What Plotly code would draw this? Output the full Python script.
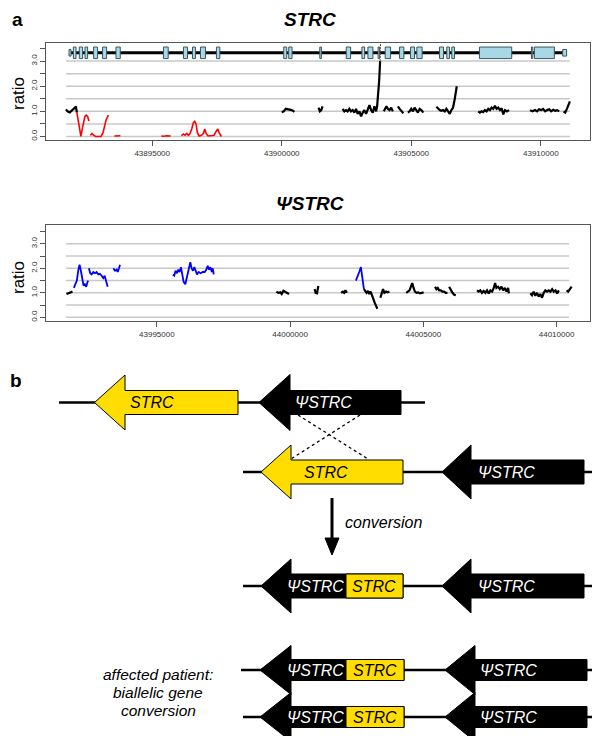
import plotly.graph_objects as go

W, H = 600, 736
FONT = "Liberation Sans, Arial, Helvetica, sans-serif"

# ---------------- panel a : STRC ----------------
strc_ticks = [43895000, 43900000, 43905000, 43910000]
strc_xrange = [43890900, 43911900]
strc_grid_span = [43891680, 43911120]
ratio_ticks = [0, 0.5, 1, 1.5, 2, 2.5, 3, 3.5]
ratio_labels = ["0.0", "", "1.0", "", "2.0", "", "3.0", ""]
grid_levels = [0, 0.5, 1, 1.5, 2, 2.5, 3]

strc_exon_start = [43891789, 43891955, 43892186, 43892406, 43892737, 43893084, 43893601,
                   43895436, 43896207, 43896554, 43896862, 43897479, 43900077, 43900270,
                   43901470, 43902490, 43903096, 43903327, 43903720, 43903994, 43904549,
                   43904973, 43905216, 43906091, 43906372, 43906565, 43907633, 43909640,
                   43909753, 43910844]
strc_exon_end = [43891866, 43892059, 43892313, 43892506, 43892891, 43893238, 43893766,
                 43895617, 43896361, 43896669, 43897055, 43897610, 43900193, 43900397,
                 43901530, 43902660, 43903200, 43903520, 43903780, 43904202, 43904715,
                 43905127, 43905420, 43906245, 43906476, 43906669, 43908878, 43909690,
                 43910524, 43910998]
gene_track_y = 3.33

# normal-ratio coverage (black), None separates segments
strc_norm_pos = [43891670, 43891730, 43891820, 43891900, 43891990, 43892054, 43892093, None,
                 43900000, 43900078, 43900155, 43900233, 43900310, 43900388, 43900491, None,
                 43901421, 43901473, 43901525, 43901576, None,
                 43902351, 43902416, 43902481, 43902545, 43902610, 43902674, 43902739, 43902804,
                 43902868, 43902933, 43902997, 43903062, 43903127, 43903191, 43903256, 43903320,
                 43903385, 43903450, 43903514, 43903579, 43903643, 43903682, 43903721, 43903760,
                 43903798, None,
                 43903941, 43903992, 43904044, 43904096, 43904160, 43904225, 43904289, None,
                 43904483, 43904535, 43904587, 43904638, 43904690, None,
                 43904871, 43904935, 43905000, 43905065, 43905129, 43905194, 43905258, 43905323,
                 43905388, 43905465, None,
                 43905969, 43906034, 43906098, 43906163, 43906227, 43906292, 43906357, 43906421,
                 43906486, 43906550, 43906615, 43906680, 43906757, None,
                 43907584, 43907649, 43907713, 43907778, 43907842, 43907907, 43907972, 43908036,
                 43908101, 43908165, 43908230, 43908295, 43908359, 43908424, 43908488, 43908553,
                 43908618, 43908695, 43908773, None,
                 43909587, 43909677, 43909780, 43909858, 43909935, 43910013, 43910090, 43910168,
                 43910245, 43910323, 43910400, 43910478, 43910556, 43910633, 43910711, None,
                 43910879, 43910943, 43911008, 43911072, 43911124]
strc_norm_ratio = [1.08, 1.0, 0.96, 1.02, 1.12, 1.2, 0.95, None,
                   0.97, 1.0, 1.1, 1.08, 1.05, 1.05, 0.98, None,
                   1.15, 1.0, 1.05, 1.2, None,
                   1.1, 1.0, 1.05, 1.0, 1.1, 1.0, 1.05, 0.95,
                   1.1, 0.9, 1.0, 0.8, 0.95, 1.05, 0.9, 1.1,
                   1.25, 1.05, 0.95, 1.2, 1.0, 1.2, 1.6, 2.2,
                   3.0, None,
                   1.0, 1.1, 1.2, 1.1, 1.05, 1.15, 1.0, None,
                   1.2, 1.1, 1.05, 1.0, 0.92, None,
                   0.95, 1.0, 1.1, 1.0, 1.15, 1.02, 0.95, 1.1,
                   1.05, 0.95, None,
                   1.18, 1.1, 1.05, 1.02, 1.05, 1.0, 1.1, 1.0,
                   0.9, 1.05, 1.15, 1.5, 2.0, None,
                   1.0, 0.95, 1.0, 0.97, 1.05, 1.0, 1.1, 1.05,
                   1.15, 1.1, 1.22, 1.1, 1.15, 1.05, 1.12, 0.88,
                   1.05, 1.0, 1.05, None,
                   1.05, 1.0, 1.05, 1.0, 1.08, 1.05, 1.1, 1.0,
                   1.05, 1.08, 1.0, 1.06, 1.02, 1.05, 1.0, None,
                   1.0, 0.95, 1.1, 1.25, 1.4]
# off-scale continuation of the spike (thin)
strc_spike_pos = [43903798, 43903812, 43903826]
strc_spike_ratio = [3.0, 3.6, 4.2]

# reduced-ratio coverage (red)
strc_low_pos = [43892093, 43892145, 43892196, 43892248, 43892300, 43892351, 43892403, 43892455,
                43892506, 43892558, None,
                43892610, 43892674, 43892739, 43892817, 43892920, 43893023, 43893101, 43893152,
                43893217, 43893307, None,
                43893540, 43893620, 43893700, 43893773, None,
                43895349, 43895450, 43895560, 43895711, None,
                43896124, 43896202, 43896266, 43896331, 43896395, 43896460, 43896525, 43896589,
                43896641, 43896693, 43896744, 43896809, 43896899, 43896977, 43897028, 43897080,
                43897158, 43897287, 43897390, 43897468, 43897532, 43897597, 43897674]
strc_low_ratio = [0.95, 0.6, 0.25, 0.0, 0.3, 0.62, 0.8, 0.85,
                  0.8, 0.62, None,
                  0.05, 0.12, 0.05, 0.0, 0.0, 0.0, 0.15, 0.4,
                  0.65, 0.85, None,
                  0.02, 0.03, 0.02, 0.03, None,
                  0.02, 0.01, 0.03, 0.02, None,
                  0.03, 0.1, 0.05, 0.12, 0.05, 0.12, 0.3, 0.55,
                  0.6, 0.5, 0.15, 0.02, 0.05, 0.12, 0.3, 0.12,
                  0.02, 0.02, 0.05, 0.2, 0.3, 0.12, 0.0]

# ---------------- panel a : PsiSTRC ----------------
pstrc_ticks = [43995000, 44000000, 44005000, 44010000]
pstrc_xrange = [43990840, 44011256]
pstrc_grid_span = [43991590, 44010470]

pstrc_norm_pos = [43991609, 43991697, 43991772, 43991835, None,
                  43999484, 43999559, 43999635, 43999685, 43999748, 43999810, 43999886, 43999961, None,
                  44000920, 44000960, 44001010, 44001060, None,
                  44001915, 44001978, 44002029, 44002079, 44002130, None,
                  44002771, 44002822, 44002872, 44002923, 44002973, 44003023, 44003074, 44003124,
                  44003174, 44003225, 44003275, None,
                  44003388, 44003439, 44003489, 44003540, 44003603, 44003665, 44003728, None,
                  44004358, 44004421, 44004484, 44004534, 44004585, 44004635, 44004685, 44004748,
                  44004811, 44004874, 44004937, 44005013, None,
                  44005441, 44005491, 44005541, 44005592, 44005655, 44005718, 44005781, 44005844,
                  44005906, None,
                  44005969, 44006032, 44006095, 44006158, 44006221, None,
                  44007014, 44007077, 44007140, 44007203, 44007266, 44007329, 44007392, 44007455,
                  44007518, 44007581, 44007644, 44007694, 44007744, 44007807, 44007870, 44007933,
                  44007996, 44008059, 44008122, 44008184, 44008210, None,
                  44009016, 44009079, 44009142, 44009205, 44009268, 44009331, 44009394, 44009457,
                  44009520, 44009583, 44009646, 44009709, 44009772, 44009835, 44009898, 44009961,
                  44010024, 44010087, None,
                  44010376, 44010439, 44010502, 44010565]
pstrc_norm_ratio = [0.95, 0.98, 1.02, 1.05, None,
                    1.05, 1.0, 1.02, 0.95, 1.08, 1.05, 1.0, 0.95, None,
                    1.15, 1.0, 0.98, 1.28, None,
                    1.0, 1.05, 1.0, 1.1, 1.0, None,
                    1.15, 1.05, 1.0, 1.08, 0.95, 1.05, 0.85, 0.75,
                    0.6, 0.45, 0.35, None,
                    0.8, 0.95, 1.15, 1.0, 1.05, 1.02, 1.05, None,
                    1.0, 1.05, 1.1, 1.25, 1.4, 1.2, 1.05, 1.0,
                    1.02, 0.98, 1.0, 1.02, None,
                    1.25, 1.15, 1.2, 1.1, 1.1, 1.05, 1.05, 1.0,
                    1.0, None,
                    1.25, 1.1, 1.0, 0.92, 0.9, None,
                    1.1, 1.05, 1.1, 1.0, 1.08, 1.0, 1.1, 0.98,
                    1.1, 1.05, 1.2, 1.4, 1.2, 1.25, 1.15, 1.25,
                    1.1, 1.2, 1.05, 1.2, 0.98, None,
                    0.98, 0.9, 1.05, 0.88, 1.0, 0.85, 0.95, 0.8,
                    1.0, 1.1, 1.05, 1.1, 1.05, 1.15, 1.05, 1.1,
                    0.98, 1.1, None,
                    1.1, 1.05, 1.15, 1.25]

pstrc_high_pos = [43991885, 43991948, 43991998, 43992048, 43992099, 43992149, 43992199, 43992249,
                  43992300, 43992350, 43992400, 43992425, None,
                  43992450, 43992500, 43992551, 43992614, 43992676, 43992739, 43992802, 43992865,
                  43992928, 43992990, 43993041, 43993091, 43993154, None,
                  43993367, 43993430, 43993492, 43993530, 43993580, 43993618, None,
                  43995603, 43995653, 43995703, 43995754, 43995804, 43995854, 43995904, 43995955,
                  43996005, 43996068, 43996130, 43996193, 43996256, 43996306, 43996356, 43996407,
                  43996457, 43996507, 43996570, 43996645, 43996721, 43996796, 43996859, 43996909,
                  43996959, 43997010, 43997060, 43997098, 43997135, None,
                  44002469, 44002532, 44002595, 44002658, 44002696, 44002734, 44002771]
pstrc_high_ratio = [1.2, 1.35, 1.5, 1.9, 2.15, 1.9, 1.5, 1.3,
                    1.35, 1.25, 1.45, 1.5, None,
                    2.0, 1.8, 1.75, 1.85, 1.8, 1.85, 1.75, 1.78,
                    1.7, 1.6, 1.7, 1.5, 1.25, None,
                    2.0, 1.9, 1.95, 1.85, 2.0, 2.15, None,
                    1.75, 1.7, 1.9, 1.8, 1.95, 1.85, 2.05, 1.7,
                    1.45, 1.35, 1.7, 2.0, 2.25, 2.0, 1.9, 2.05,
                    1.9, 1.75, 1.85, 1.8, 1.85, 1.85, 1.95, 2.1,
                    1.95, 2.05, 1.85, 2.0, 1.75, None,
                    1.5, 1.65, 1.85, 2.05, 1.75, 1.45, 1.15]

# ---------------- figure ----------------
fig = go.Figure()

fig.add_trace(go.Scatter(x=strc_norm_pos, y=strc_norm_ratio, mode="lines",
                         line=dict(color="black", width=2.2), connectgaps=False,
                         xaxis="x", yaxis="y", hoverinfo="skip"))
fig.add_trace(go.Scatter(x=strc_spike_pos, y=strc_spike_ratio, mode="lines",
                         line=dict(color="#6b4a2a", width=1, dash="2px,1px"),
                         xaxis="x", yaxis="y", hoverinfo="skip"))
fig.add_trace(go.Scatter(x=strc_low_pos, y=strc_low_ratio, mode="lines",
                         line=dict(color="#FF0000", width=1.6), connectgaps=False,
                         xaxis="x", yaxis="y", hoverinfo="skip"))
fig.add_trace(go.Scatter(x=pstrc_norm_pos, y=pstrc_norm_ratio, mode="lines",
                         line=dict(color="black", width=2.2), connectgaps=False,
                         xaxis="x2", yaxis="y2", hoverinfo="skip"))
fig.add_trace(go.Scatter(x=pstrc_high_pos, y=pstrc_high_ratio, mode="lines",
                         line=dict(color="#0000FF", width=1.8), connectgaps=False,
                         xaxis="x2", yaxis="y2", hoverinfo="skip"))

shapes = []
for lv in grid_levels:
    shapes.append(dict(type="line", xref="x", yref="y", x0=strc_grid_span[0], x1=strc_grid_span[1],
                       y0=lv, y1=lv, line=dict(color="#C8C8C8", width=1.5), layer="below"))
    shapes.append(dict(type="line", xref="x2", yref="y2", x0=pstrc_grid_span[0], x1=pstrc_grid_span[1],
                       y0=lv, y1=lv, line=dict(color="#C8C8C8", width=1.5), layer="below"))

# gene model
shapes.append(dict(type="line", xref="x", yref="y", x0=strc_exon_start[0], x1=strc_exon_end[-1],
                   y0=gene_track_y, y1=gene_track_y, line=dict(color="black", width=3), layer="below"))
for i, (s, e) in enumerate(zip(strc_exon_start, strc_exon_end)):
    half = 0.13 if i in (0, len(strc_exon_start) - 1) else 0.23
    shapes.append(dict(type="rect", xref="x", yref="y", x0=s, x1=e,
                       y0=gene_track_y - half, y1=gene_track_y + half,
                       fillcolor="#A8D8E6", line=dict(color="#3A5560", width=1), layer="below"))

# ---------------- panel b : diagram (pixel helper) ----------------
def px(x, y):
    return x / W, 1 - y / H

def path(pts):
    return "M " + " L ".join("%.5f,%.5f" % px(x, y) for x, y in pts) + " Z"

def arrow(tip, xh, xe, yc, hh, hb, fill):
    pts = [(tip, yc), (xh, yc - hh), (xh, yc - hb), (xe, yc - hb), (xe, yc + hb),
           (xh, yc + hb), (xh, yc + hh)]
    shapes.append(dict(type="path", xref="paper", yref="paper", path=path(pts),
                       fillcolor=fill, line=dict(color="black", width=1), layer="above"))

def hline(x0, x1, y, w=2.5):
    a = px(x0, y); b = px(x1, y)
    shapes.append(dict(type="line", xref="paper", yref="paper", x0=a[0], y0=a[1], x1=b[0], y1=b[1],
                       line=dict(color="black", width=w), layer="above"))

def rect(x0, x1, y0, y1, fill):
    a = px(x0, y0); b = px(x1, y1)
    shapes.append(dict(type="rect", xref="paper", yref="paper", x0=a[0], y0=a[1], x1=b[0], y1=b[1],
                       fillcolor=fill, line=dict(color="black", width=1), layer="above"))

YEL = "#FFDD00"
# row 1
hline(51, 417, 394.5)
arrow(86.5, 117, 230, 394.5, 27.5, 12, YEL)
arrow(251, 282, 393, 394.5, 28, 12, "black")
# row 2
hline(235, 598, 464)
arrow(253, 283, 395, 464, 27, 12, YEL)
arrow(434, 463, 576, 464, 27, 12, "black")
# crossover dashed lines
for (x0, y0, x1, y1) in [(290, 407, 360, 451), (352, 407, 283, 451)]:
    a = px(x0, y0); b = px(x1, y1)
    shapes.append(dict(type="line", xref="paper", yref="paper", x0=a[0], y0=a[1], x1=b[0], y1=b[1],
                       line=dict(color="black", width=1.3, dash="3px,3px"), layer="above"))
# down arrow
a = px(324, 490); b = px(324, 533)
shapes.append(dict(type="line", xref="paper", yref="paper", x0=a[0], y0=a[1], x1=b[0], y1=b[1],
                   line=dict(color="black", width=3), layer="above"))
shapes.append(dict(type="path", xref="paper", yref="paper",
                   path=path([(317, 530), (331, 530), (324, 547)]),
                   fillcolor="black", line=dict(color="black", width=1), layer="above"))
# row 3
hline(235, 598, 578)
arrow(253, 283, 395, 578, 27, 12, "black")
rect(338, 395, 566, 590, YEL)
arrow(434, 463, 576, 578, 27, 12, "black")
# row 4
hline(233, 598, 662)
arrow(252, 283, 396, 662, 24.5, 10.5, "black")
rect(338, 396, 651.5, 672.5, YEL)
arrow(437, 467, 579, 662, 24.5, 10.5, "black")
# row 5
hline(235, 598, 709)
arrow(252, 283, 396, 709, 24.5, 10.5, "black")
rect(338, 396, 698.5, 719.5, YEL)
arrow(437, 467, 579, 709, 24.5, 10.5, "black")

annotations = []
def text(x, y, s, size=16, color="black", anchor="center", angle=0):
    a = px(x, y)
    annotations.append(dict(x=a[0], y=a[1], xref="paper", yref="paper", text=s, showarrow=False,
                            xanchor=anchor, yanchor="middle", textangle=angle,
                            font=dict(family=FONT, size=size, color=color)))

text(9, 12, "<b>a</b>", 19)
text(8, 372, "<b>b</b>", 19)
text(302, 12, "<b><i>STRC</i></b>", 19)
text(302, 196, "<b><i>ΨSTRC</i></b>", 19)
text(10, 86, "ratio", 17, angle=-90)
text(10, 270, "ratio", 17, angle=-90)

text(144, 394.5, "<i>STRC</i>", 16)
text(315, 394.5, "<i>ΨSTRC</i>", 16, "white")
text(318, 464, "<i>STRC</i>", 16)
text(498, 464, "<i>ΨSTRC</i>", 16, "white")
text(335, 514, "<i>conversion</i>", 16, anchor="left")
text(307, 578, "<i>ΨSTRC</i>", 16, "white")
text(366, 578, "<i>STRC</i>", 16)
text(498, 578, "<i>ΨSTRC</i>", 16, "white")
text(307, 662, "<i>ΨSTRC</i>", 16, "white")
text(367, 662, "<i>STRC</i>", 16)
text(500, 662, "<i>ΨSTRC</i>", 16, "white")
text(307, 709, "<i>ΨSTRC</i>", 16, "white")
text(367, 709, "<i>STRC</i>", 16)
text(500, 709, "<i>ΨSTRC</i>", 16, "white")
text(150, 666, "<i>affected patient:</i>", 15.5)
text(150, 684, "<i>biallelic gene</i>", 15.5)
text(150, 702, "<i>conversion</i>", 15.5)

axis_common = dict(showgrid=False, zeroline=False, showline=True, mirror=True,
                   linecolor="#555555", linewidth=1, ticks="outside", ticklen=5,
                   tickcolor="#555555", tickwidth=1,
                   tickfont=dict(family=FONT, size=8, color="#333333"))

fig.update_layout(
    width=W, height=H, margin=dict(l=0, r=0, t=0, b=0),
    paper_bgcolor="white", plot_bgcolor="rgba(0,0,0,0)",
    showlegend=False, font=dict(family=FONT),
    xaxis=dict(domain=[38 / W, 582 / W], range=strc_xrange, anchor="y",
               tickvals=strc_ticks, ticktext=[str(t) for t in strc_ticks], **axis_common),
    yaxis=dict(domain=[1 - 132 / H, 1 - 35 / H], range=[-0.14, 3.72], anchor="x",
               tickvals=ratio_ticks, ticktext=ratio_labels, tickangle=-90, **axis_common),
    xaxis2=dict(domain=[38 / W, 582 / W], range=pstrc_xrange, anchor="y2",
                tickvals=pstrc_ticks, ticktext=[str(t) for t in pstrc_ticks], **axis_common),
    yaxis2=dict(domain=[1 - 313 / H, 1 - 217 / H], range=[-0.15, 3.77], anchor="x2",
                tickvals=ratio_ticks, ticktext=ratio_labels, tickangle=-90, **axis_common),
    shapes=shapes, annotations=annotations,
)

fig.write_html("out.html")
